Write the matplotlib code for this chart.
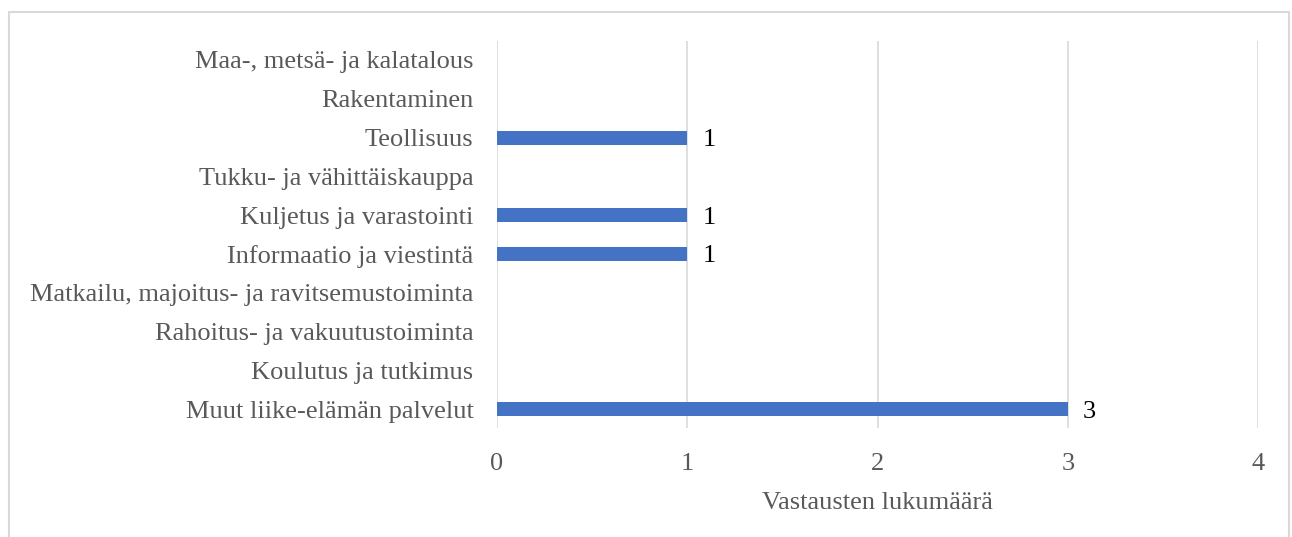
import matplotlib.pyplot as plt
from matplotlib.patches import Rectangle

plt.rcParams['font.family'] = ['Liberation Serif', 'DejaVu Serif']

# categories listed bottom to top
categories = [
    'Muut liike-elämän palvelut',
    'Koulutus ja tutkimus',
    'Rahoitus- ja vakuutustoiminta',
    'Matkailu, majoitus- ja ravitsemustoiminta',
    'Informaatio ja viestintä',
    'Kuljetus ja varastointi',
    'Tukku- ja vähittäiskauppa',
    'Teollisuus',
    'Rakentaminen',
    'Maa-, metsä- ja kalatalous',
]
counts = [3, 0, 0, 0, 1, 1, 0, 1, 0, 0]
xticks = [0, 1, 2, 3, 4]
xlabel = 'Vastausten lukumäärä'

fig = plt.figure(figsize=(12.92, 5.37), dpi=100)
ax = fig.add_axes([0.3847, 0.2022, 0.5890, 0.7222])

ypos = list(range(len(categories)))
ax.barh(ypos, counts, height=0.36, color='#4472C4', zorder=3)

for y, v in zip(ypos, counts):
    if v > 0:
        ax.text(v + 0.08, y, str(v), va='center_baseline', ha='left', fontsize=19, color='#000000')

ax.set_xlim(0, 4)
ax.set_ylim(-0.5, len(categories) - 0.5)
ax.set_xticks(xticks)
ax.set_xticklabels([str(t) for t in xticks], fontsize=19, color='#595959')
ax.set_yticks(ypos)
ax.set_yticklabels(categories, fontsize=19, color='#595959')
ax.tick_params(axis='both', length=0)
ax.tick_params(axis='x', pad=18)
ax.tick_params(axis='y', pad=17)
ax.xaxis.grid(True, color='#D9D9D9', linewidth=1.2, zorder=0)
ax.set_axisbelow(True)
for s in ax.spines.values():
    s.set_visible(False)
ax.set_xlabel(xlabel, fontsize=19, color='#595959', labelpad=12)

fig.patches.append(Rectangle((9 / 1292, -0.01), 1280 / 1292, 1 - 12 / 537 + 0.01,
                             transform=fig.transFigure, fill=False,
                             edgecolor='#D9D9D9', linewidth=1.5))

fig.savefig('out.png', dpi=100)
